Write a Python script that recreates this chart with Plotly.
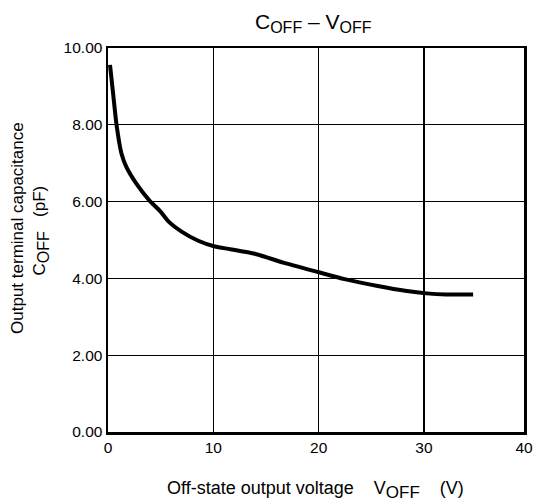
import plotly.graph_objects as go

v_off = [0.19, 0.49, 0.81, 1.27, 1.73, 2.66, 3.9, 4.99, 5.76, 6.99, 8.57, 10.15, 11.62, 14.09, 16.65, 20.0, 22.46, 25.61, 28.37, 30.24, 32.11, 34.67]
c_off = [9.56, 8.8, 8.0, 7.26, 6.91, 6.48, 6.04, 5.74, 5.48, 5.22, 4.98, 4.83, 4.76, 4.63, 4.41, 4.16, 3.98, 3.80, 3.67, 3.61, 3.58, 3.58]

x_ticks = [0, 10, 20, 30, 39.5]
x_tick_labels = ["0", "10", "20", "30", "40"]
y_ticks = [0, 2, 4, 6, 8, 10]
y_tick_labels = ["0.00", "2.00", "4.00", "6.00", "8.00", "10.00"]

FONT = "Liberation Sans, Arial, sans-serif"
NB = "\u00a0"

# page body has an 8px default margin; size the figure so the page is 541 wide
OFF = 8
W, H = 541 - OFF, 503 - OFF
L, R, T, B = 108 - OFF, 533 - OFF, 48 - OFF, 432 - OFF
PW, PH = R - L, B - T


def px_x(px):
    return (px - OFF - L) / PW


def px_y(py):
    return (B - (py - OFF)) / PH


def sub(text, size):
    return "<sub><span style='font-size:%spx'>%s</span></sub>" % (size, text)


fig = go.Figure()
fig.add_trace(go.Scatter(x=v_off, y=c_off, mode="lines",
                         line=dict(color="black", width=4, shape="spline", smoothing=0.6),
                         hoverinfo="skip"))

fig.update_layout(
    width=W, height=H,
    margin=dict(l=L, r=W - R, t=T, b=H - B, pad=0),
    paper_bgcolor="white", plot_bgcolor="white",
    showlegend=False,
    font=dict(family=FONT, size=15.5, color="black"),
    xaxis=dict(range=[0, 39.5], tickvals=x_ticks, ticktext=x_tick_labels,
               showgrid=True, gridcolor="black", gridwidth=1.3,
               showline=True, linecolor="black", linewidth=2.5, mirror=True,
               zeroline=False, ticks="", ticklen=0, tickfont=dict(size=15.5, family=FONT)),
    yaxis=dict(range=[0, 10], tickvals=y_ticks, ticktext=y_tick_labels,
               showgrid=True, gridcolor="black", gridwidth=1.3,
               showline=True, linecolor="black", linewidth=2.5, mirror=True,
               zeroline=False, ticks="", ticklen=0, tickfont=dict(size=15.5, family=FONT)),
)

fig.add_annotation(text="C" + sub("OFF", 16) + " – V" + sub("OFF", 16), xref="paper", yref="paper",
                   x=px_x(318), y=px_y(23), showarrow=False,
                   xanchor="center", yanchor="middle", font=dict(size=21, family=FONT))
fig.add_annotation(text="Off-state output voltage" + NB * 4 + "V" + sub("OFF", 17) + NB * 4 + "(V)",
                   xref="paper", yref="paper",
                   x=px_x(320), y=px_y(490), showarrow=False,
                   xanchor="center", yanchor="middle", font=dict(size=18, family=FONT))
fig.add_annotation(text="Output terminal capacitance", xref="paper", yref="paper",
                   x=px_x(15), y=px_y(228), showarrow=False, textangle=-90,
                   xanchor="center", yanchor="middle", font=dict(size=17, family=FONT))
fig.add_annotation(text="C" + sub("OFF", 16) + NB * 3 + "(pF)", xref="paper", yref="paper",
                   x=px_x(40), y=px_y(230), showarrow=False, textangle=-90,
                   xanchor="center", yanchor="middle", font=dict(size=17, family=FONT))

fig.write_html("out.html", config={"displayModeBar": False, "staticPlot": True})
